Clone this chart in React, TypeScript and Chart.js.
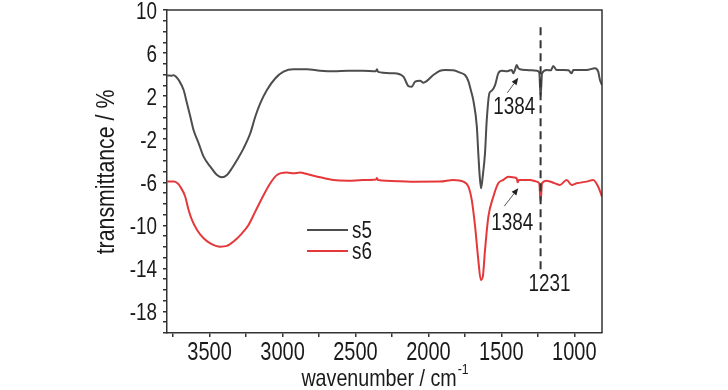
import React, { useEffect, useRef } from 'react';
import { Chart, registerables } from 'chart.js';

Chart.register(...registerables);

// ---- data ----
const seriesNames = ['s5', 's6'];

const s5Wn = [3792, 3760, 3746, 3730, 3712, 3678, 3655, 3632, 3610, 3575, 3541, 3495, 3449, 3415, 3381, 3347, 3312, 3267, 3221, 3187, 3153, 3107, 3049, 2993, 2925, 2833, 2742, 2650, 2550, 2450, 2360, 2353, 2345, 2240, 2171, 2137, 2114, 2091, 2057, 2034, 1966, 1920, 1886, 1830, 1783, 1749, 1726, 1710, 1692, 1668, 1658, 1648, 1639, 1628, 1612, 1600, 1582, 1566, 1543, 1521, 1497, 1463, 1440, 1429, 1418, 1405, 1395, 1384, 1372, 1326, 1258, 1240, 1231, 1221, 1189, 1160, 1144, 1121, 1075, 1040, 1018, 1007, 915, 858, 836, 824, 810];
const s5T = [3.92, 3.9, 3.95, 3.8, 3.5, 2.57, 1.33, 0.09, -1.14, -2.38, -3.62, -4.55, -5.32, -5.54, -5.32, -4.7, -3.93, -2.85, -1.45, 0.09, 1.33, 2.57, 3.66, 4.27, 4.49, 4.49, 4.36, 4.3, 4.36, 4.36, 4.3, 4.5, 4.25, 4.12, 3.8, 2.94, 2.88, 3.34, 3.43, 3.25, 3.96, 4.36, 4.43, 4.4, 4.18, 3.96, 3.4, 2.6, 1.6, -0.83, -3.3, -5.5, -6.56, -5.5, -3.3, -0.21, 2.27, 2.5, 3.03, 4.12, 4.36, 4.3, 4.4, 4.43, 4.12, 4.5, 4.89, 4.6, 4.5, 4.43, 4.36, 4.2, 1.95, 4.12, 4.43, 4.4, 4.8, 4.43, 4.43, 4.4, 4.12, 4.43, 4.43, 4.58, 4.27, 3.5, 3.03];

const s6Wn = [3792, 3746, 3720, 3701, 3667, 3644, 3621, 3586, 3541, 3495, 3427, 3381, 3336, 3278, 3233, 3187, 3141, 3084, 3038, 2970, 2925, 2880, 2833, 2742, 2650, 2550, 2450, 2360, 2353, 2345, 2200, 2100, 1921, 1829, 1760, 1726, 1703, 1680, 1658, 1641, 1627, 1612, 1589, 1555, 1521, 1486, 1452, 1410, 1395, 1388, 1380, 1303, 1258, 1240, 1231, 1221, 1189, 1132, 1098, 1052, 1018, 984, 915, 870, 836, 810];
const s6T = [-5.94, -5.94, -6.1, -6.41, -7.34, -8.57, -9.5, -10.43, -11.2, -11.67, -11.98, -11.91, -11.51, -10.74, -9.96, -8.73, -7.48, -6.09, -5.32, -5.1, -5.17, -5.1, -5.23, -5.54, -5.8, -5.85, -5.8, -5.75, -5.6, -5.8, -5.9, -5.95, -5.94, -5.78, -5.94, -6.41, -7.64, -10.1, -13.2, -15.07, -14.76, -12.3, -9.2, -7.34, -6.09, -5.78, -5.48, -5.55, -5.63, -6.0, -5.78, -5.78, -5.94, -6.1, -7.8, -6.1, -5.85, -6.1, -6.25, -5.78, -6.25, -6.1, -5.94, -5.78, -6.41, -7.34];

const xMin = 810;
const xMax = 3792;
const yMin = -20;
const yMax = 10;
const xTickValues = [3750, 3500, 3250, 3000, 2750, 2500, 2250, 2000, 1750, 1500, 1250, 1000];
const xLabelValues = [3500, 3000, 2500, 2000, 1500, 1000];
const yLabelValues = [-18, -14, -10, -6, -2, 2, 6, 10];
const xTitle = 'wavenumber / cm';
const xTitleSup = '-1';
const yTitle = 'transmittance / %';

// annotations (wavenumber, transmittance)
const arrowWn = [1384, 1384];
const arrowT = [3.7, -6.55];
const arrowText = ['1384', '1384'];
const markerWn = 1231;
const markerText = '1231';

const FONT = "'Liberation Sans', Arial, sans-serif";
const SX = 0.82; // narrow face look
const TEXT = '#1a1a1a';
const AXIS = '#333333';
const COLORS = ['#4d4d4d', '#e5383b'];

function drawText(ctx: any, text: string, x: number, y: number, size: number, align: string, baseline: string, sx = SX) {
  ctx.save();
  ctx.font = `${size}px ${FONT}`;
  ctx.textAlign = align;
  ctx.textBaseline = baseline;
  ctx.fillStyle = TEXT;
  ctx.translate(x, y);
  ctx.scale(sx, 1);
  ctx.fillText(text, 0, 0);
  ctx.restore();
}

const annotPlugin = {
  id: 'annot',
  afterDatasetsDraw(chart: any) {
    const { ctx, scales } = chart;
    const xs = scales.x;
    const ys = scales.y;
    ctx.save();
    // dashed marker
    const mx = xs.getPixelForValue(markerWn);
    ctx.strokeStyle = '#333';
    ctx.lineWidth = 2;
    ctx.setLineDash([8, 5]);
    ctx.beginPath();
    ctx.moveTo(mx, ys.getPixelForValue(8.4));
    ctx.lineTo(mx, ys.getPixelForValue(-14.1));
    ctx.stroke();
    ctx.setLineDash([]);
    drawText(ctx, markerText, mx + 9, ys.getPixelForValue(-15.4) + 8, 23, 'center', 'alphabetic');

    // arrows
    const tails = [[-11, 15], [-14, 18]];
    const textOff = [[-4, 28], [-6, 34]];
    for (let i = 0; i < arrowWn.length; i++) {
      const tx = xs.getPixelForValue(arrowWn[i]);
      const ty = ys.getPixelForValue(arrowT[i]);
      const bx = tx + tails[i][0];
      const by = ty + tails[i][1];
      const ang = Math.atan2(ty - by, tx - bx);
      const hl = 7;
      const hw = 3;
      ctx.strokeStyle = '#555';
      ctx.fillStyle = '#222';
      ctx.lineWidth = 1;
      ctx.beginPath();
      ctx.moveTo(bx, by);
      ctx.lineTo(tx - hl * Math.cos(ang), ty - hl * Math.sin(ang));
      ctx.stroke();
      ctx.beginPath();
      ctx.moveTo(tx, ty);
      ctx.lineTo(tx - hl * Math.cos(ang) + hw * Math.sin(ang), ty - hl * Math.sin(ang) - hw * Math.cos(ang));
      ctx.lineTo(tx - hl * Math.cos(ang) - hw * Math.sin(ang), ty - hl * Math.sin(ang) + hw * Math.cos(ang));
      ctx.closePath();
      ctx.fill();
      drawText(ctx, arrowText[i], tx + textOff[i][0], ty + textOff[i][1] + 8, 23, 'center', 'alphabetic');
    }
    ctx.restore();
  },
  afterDraw(chart: any) {
    const { ctx, chartArea, scales } = chart;
    const xs = scales.x;
    const ys = scales.y;
    ctx.save();
    // frame top & right
    ctx.strokeStyle = AXIS;
    ctx.lineWidth = 1.5;
    ctx.beginPath();
    ctx.moveTo(chartArea.left, chartArea.top);
    ctx.lineTo(chartArea.right, chartArea.top);
    ctx.lineTo(chartArea.right, chartArea.bottom);
    ctx.stroke();

    // tick labels, placed by the library's scales
    xLabelValues.forEach((v) => {
      drawText(ctx, String(v), xs.getPixelForValue(v), chartArea.bottom + 26.5, 25, 'center', 'alphabetic', 0.8);
    });
    yLabelValues.forEach((v) => {
      drawText(ctx, String(v), chartArea.left - 10, ys.getPixelForValue(v) + 9, 23, 'right', 'alphabetic');
    });

    // legend
    const ly = [230, 251];
    chart.data.datasets.forEach((ds: any, i: number) => {
      ctx.strokeStyle = ds.borderColor;
      ctx.lineWidth = 2;
      ctx.beginPath();
      ctx.moveTo(307, ly[i]);
      ctx.lineTo(348, ly[i]);
      ctx.stroke();
      drawText(ctx, ds.label, 352, ly[i] + 8, 23, 'left', 'alphabetic');
    });

    // y title
    ctx.save();
    ctx.translate(107, 172);
    ctx.rotate(-Math.PI / 2);
    drawText(ctx, yTitle, 0, 0, 26, 'center', 'middle');
    ctx.restore();

    // x title with superscript
    ctx.font = `24px ${FONT}`;
    const w1 = ctx.measureText(xTitle).width * SX;
    ctx.font = `15px ${FONT}`;
    const w2 = ctx.measureText(xTitleSup).width * SX;
    const cx = (chartArea.left + chartArea.right) / 2;
    const x0 = cx - (w1 + w2) / 2;
    drawText(ctx, xTitle, x0, 386, 24, 'left', 'alphabetic');
    drawText(ctx, xTitleSup, x0 + w1 + 1, 374, 15, 'left', 'alphabetic');
    ctx.restore();
  },
};

export default function App() {
  const ref = useRef<HTMLCanvasElement | null>(null);
  useEffect(() => {
    if (!ref.current) return;
    const chart = new Chart(ref.current, {
      type: 'line',
      data: {
        datasets: [
          {
            label: seriesNames[0],
            data: s5Wn.map((x, i) => ({ x, y: s5T[i] })),
            borderColor: COLORS[0],
            borderWidth: 2,
            pointRadius: 0,
            cubicInterpolationMode: 'monotone',
            fill: false,
          },
          {
            label: seriesNames[1],
            data: s6Wn.map((x, i) => ({ x, y: s6T[i] })),
            borderColor: COLORS[1],
            borderWidth: 2,
            pointRadius: 0,
            cubicInterpolationMode: 'monotone',
            fill: false,
          },
        ],
      },
      options: {
        responsive: false,
        animation: false,
        layout: { padding: { left: 0, top: 10, right: 126, bottom: 0 } },
        plugins: { legend: { display: false }, tooltip: { enabled: false } },
        scales: {
          x: {
            type: 'linear',
            reverse: true,
            min: xMin,
            max: xMax,
            afterBuildTicks: (s: any) => {
              s.ticks = xTickValues.map((v) => ({ value: v }));
            },
            afterFit: (s: any) => {
              s.height = 57;
              s.paddingLeft = 0;
              s.paddingRight = 0;
            },
            ticks: { autoSkip: false, maxRotation: 0, padding: 0, callback: () => '' },
            grid: { drawOnChartArea: false, drawTicks: true, tickLength: 4, color: AXIS, lineWidth: 1.5 },
            border: { display: true, color: AXIS, width: 1.5 },
          },
          y: {
            type: 'linear',
            min: yMin,
            max: yMax,
            afterBuildTicks: (s: any) => {
              const t = [];
              for (let v = yMin; v <= yMax; v++) t.push({ value: v });
              s.ticks = t;
            },
            afterFit: (s: any) => {
              s.width = 167;
              s.paddingTop = 0;
              s.paddingBottom = 0;
            },
            ticks: { autoSkip: false, padding: 6, callback: () => '' },
            grid: { drawOnChartArea: false, drawTicks: true, tickLength: 4, color: AXIS, lineWidth: 1.5 },
            border: { display: true, color: AXIS, width: 1.5 },
          },
        },
      },
      plugins: [annotPlugin],
    } as any);
    return () => chart.destroy();
  }, []);
  return (
    <div style={{ position: 'fixed', left: 0, top: 0, width: 728, height: 390, background: '#fff' }}>
      <canvas ref={ref} width={728} height={390} style={{ display: 'block' }} />
    </div>
  );
}
